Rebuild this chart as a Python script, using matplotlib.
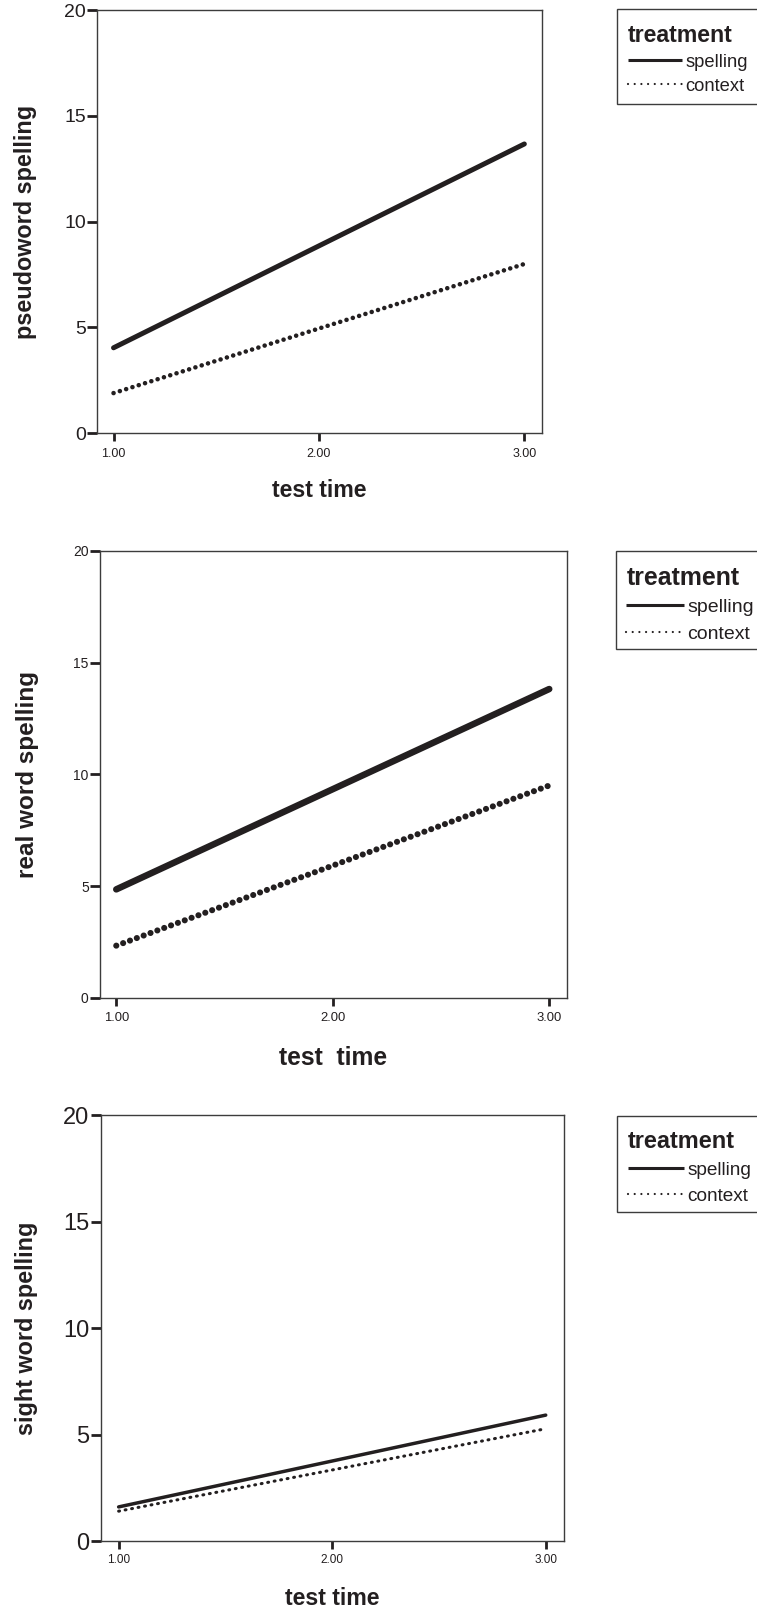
import matplotlib
matplotlib.use("Agg")
import matplotlib.pyplot as plt
from matplotlib.lines import Line2D
from matplotlib.patches import Rectangle

plt.rcParams['font.family'] = ['Liberation Sans', 'DejaVu Sans']

W, H, DPI = 757, 1619, 100
INK = '#231f20'
SPINE = '#3c3c3c'

# ---------------- data ----------------
test_time = [1.0, 3.0]
x_ticks = [1.0, 2.0, 3.0]
x_tick_labels = ['1.00', '2.00', '3.00']
y_ticks = [0, 5, 10, 15, 20]
groups = ['spelling', 'context']
legend_title = 'treatment'

pseudo_spelling = [4.04, 13.67]
pseudo_context = [1.90, 8.00]
real_spelling = [4.85, 13.82]
real_context = [2.33, 9.50]
sight_spelling = [1.60, 5.91]
sight_context = [1.40, 5.27]

y_labels = ['pseudoword spelling', 'real word spelling', 'sight word spelling']
x_labels = ['test time', 'test  time', 'test time']

# ---------------- layout / style (pixels) ----------------
panels = [
    dict(rect=(97.1, 10.0, 541.8, 433.3), xlim=(0.92, 3.085),
         spelling=pseudo_spelling, context=pseudo_context,
         ylab=y_labels[0], xlab=x_labels[0],
         ytick_fs=14, xtick_fs=9, ylab_fs=16.8, xlab_fs=16.7,
         lw_s=3.6, lw_c=3.3, period_c=6.6, on_c=0.01,
         ylab_x=25, xlab_y=490, xtl_y=454,
         box=(617.3, 9.3, 758.0, 104.0), leg_dx=-3.5,
         leg_fs=13.2, leg_tfs=16.7, leg_bp=0.78, leg_ls=0.39),
    dict(rect=(99.8, 551.0, 567.2, 997.7), xlim=(0.924, 3.083),
         spelling=real_spelling, context=real_context,
         ylab=y_labels[1], xlab=x_labels[1],
         ytick_fs=10, xtick_fs=9.4, ylab_fs=17.5, xlab_fs=17.7,
         lw_s=4.7, lw_c=4.4, period_c=7.3, on_c=0.01,
         ylab_x=27.7, xlab_y=1058.3, xtl_y=1018.3,
         box=(615.7, 551.0, 758.0, 649.3), leg_dx=-4.0,
         leg_fs=14.0, leg_tfs=17.9, leg_bp=0.75, leg_ls=0.46),
    dict(rect=(100.7, 1115.0, 564.3, 1541.0), xlim=(0.916, 3.087),
         spelling=sight_spelling, context=sight_context,
         ylab=y_labels[2], xlab=x_labels[2],
         ytick_fs=17, xtick_fs=8.5, ylab_fs=16.8, xlab_fs=16.7,
         lw_s=2.5, lw_c=2.2, period_c=6.6, on_c=0.3,
         ylab_x=26.8, xlab_y=1598.3, xtl_y=1560,
         box=(617.3, 1116.0, 758.0, 1211.7), leg_dx=-3.5,
         leg_fs=13.7, leg_tfs=16.9, leg_bp=0.75, leg_ls=0.445),
]

fig = plt.figure(figsize=(W / DPI, H / DPI), dpi=DPI)

for p in panels:
    l, t, r, b = p['rect']
    ax = fig.add_axes([l / W, 1 - b / H, (r - l) / W, (b - t) / H])
    ax.set_xlim(*p['xlim'])
    ax.set_ylim(0, 20)

    lw_c_px = p['lw_c'] * DPI / 72.0
    off = p['period_c'] / lw_c_px - p['on_c']
    ax.plot(test_time, p['spelling'], color=INK, lw=p['lw_s'],
            solid_capstyle='round', label=groups[0])
    ax.plot(test_time, p['context'], color=INK, lw=p['lw_c'],
            linestyle=(0, (p['on_c'], off)), dash_capstyle='round',
            label=groups[1])

    ax.set_xticks(x_ticks)
    ax.set_xticklabels(x_tick_labels)
    ax.set_yticks(y_ticks)
    ax.set_yticklabels([str(v) for v in y_ticks])

    for s in ax.spines.values():
        s.set_color(SPINE)
        s.set_linewidth(1.0)

    fs_px = p['xtick_fs'] * DPI / 72.0
    xtick_len_px = 8.0
    top_wanted = p['xtl_y'] - 0.52 * fs_px
    pad_px = top_wanted - (b + xtick_len_px)
    ax.tick_params(axis='x', direction='out', length=xtick_len_px * 72 / DPI,
                   width=2.0, color=INK, labelsize=p['xtick_fs'],
                   labelcolor=INK, pad=max(pad_px, 0) * 72 / DPI)
    ax.tick_params(axis='y', direction='out', length=7.0, width=2.0,
                   color=INK, labelsize=p['ytick_fs'], labelcolor=INK,
                   pad=1.0)

    ax.set_ylabel(p['ylab'], fontsize=p['ylab_fs'], fontweight='bold',
                  color=INK, va='center', ha='center')
    ax.yaxis.set_label_coords((p['ylab_x'] - l) / (r - l), 0.5)
    ax.set_xlabel(p['xlab'], fontsize=p['xlab_fs'], fontweight='bold',
                  color=INK, va='center', ha='center')
    ax.xaxis.set_label_coords(0.5, (b - p['xlab_y']) / (b - t))

    # legend box (drawn separately so its size matches the original)
    bl, bt, br, bb = p['box']
    fig.add_artist(Rectangle((bl / W, 1 - bb / H), (br - bl) / W,
                             (bb - bt) / H, transform=fig.transFigure,
                             facecolor='white', edgecolor=SPINE,
                             linewidth=1.0, zorder=2))

    # legend content
    h_s = Line2D([], [], color=INK, lw=2.2, solid_capstyle='butt')
    h_c = Line2D([], [], color=INK, lw=1.6, linestyle=(0, (0.01, 3.0)),
                 dash_capstyle='round')
    leg = fig.legend([h_s, h_c], groups, loc='upper left',
                     bbox_to_anchor=((bl + p['leg_dx']) / W, 1 - bt / H),
                     bbox_transform=fig.transFigure, borderaxespad=0,
                     frameon=False, title=legend_title,
                     title_fontproperties={'weight': 'bold',
                                           'size': p['leg_tfs']},
                     alignment='left', fontsize=p['leg_fs'],
                     handlelength=2.95, handletextpad=0.18,
                     borderpad=p['leg_bp'], labelspacing=p['leg_ls'],
                     labelcolor=INK)
    leg.set_zorder(3)
    leg.get_title().set_color(INK)

fig.savefig('out.png', dpi=DPI, facecolor='white')
